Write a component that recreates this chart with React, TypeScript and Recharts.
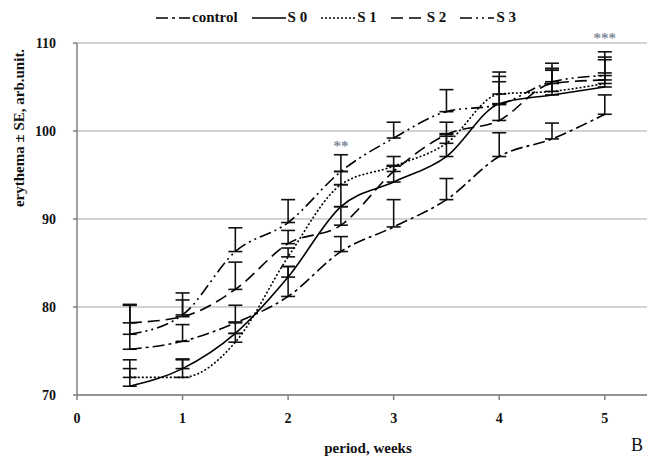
import React from 'react';
import { LineChart, Line, XAxis, YAxis, CartesianGrid, ErrorBar, Legend, ReferenceDot } from 'recharts';

const weeks = [0.5, 1, 1.5, 2, 2.5, 3, 3.5, 4, 4.5, 5];
const xTicks = [0, 1, 2, 3, 4, 5];
const yTicks = [70, 80, 90, 100, 110];

const control = [75.2, 76.1, 78.2, 81.2, 86.3, 89.1, 92.2, 97.1, 99.1, 101.9];
const controlSE = [5.0, 1.9, 2.0, 3.4, 1.7, 3.1, 2.4, 2.7, 1.8, 2.2];
const s0 = [71.0, 73.0, 77.0, 83.4, 91.4, 94.2, 97.1, 103.1, 104.1, 105.0];
const s0SE = [3.0, 1.1, 1.3, 1.2, 2.5, 1.8, 2.3, 2.5, 3.6, 1.6];
const s1 = [72.0, 72.0, 76.0, 85.7, 93.9, 96.0, 98.6, 104.2, 104.5, 105.4];
const s1SE = [1.0, 2.0, 1.0, 1.0, 1.5, 1.1, 1.1, 2.0, 2.6, 2.7];
const s2 = [78.2, 78.9, 82.0, 87.2, 89.3, 95.4, 99.6, 101.2, 105.4, 105.8];
const s2SE = [2.0, 1.9, 3.1, 1.5, 2.1, 0.7, 1.4, 1.9, 1.5, 2.6];
const s3 = [76.9, 79.1, 86.3, 89.6, 95.4, 99.2, 102.2, 103.0, 105.6, 106.3];
const s3SE = [3.4, 2.5, 2.7, 2.6, 1.9, 1.8, 2.5, 3.7, 1.5, 2.7];

const annotations = [
  { week: 2.5, value: 98.3, text: '**' },
  { week: 5, value: 110.6, text: '***' },
];

const data = weeks.map((w, i) => ({
  week: w,
  control: control[i],
  controlErr: [0, controlSE[i]],
  s0: s0[i],
  s0Err: [0, s0SE[i]],
  s1: s1[i],
  s1Err: [0, s1SE[i]],
  s2: s2[i],
  s2Err: [0, s2SE[i]],
  s3: s3[i],
  s3Err: [0, s3SE[i]],
}));

const series = [
  { key: 'control', name: 'control', dash: '12 4 3 4' },
  { key: 's0', name: 'S 0', dash: undefined },
  { key: 's1', name: 'S 1', dash: '2 2' },
  { key: 's2', name: 'S 2', dash: '12 6' },
  { key: 's3', name: 'S 3', dash: '12 4 2 4 2 4' },
];

const FONT = '"Liberation Serif", "Times New Roman", serif';

const LegendContent = () => (
  <div style={{ display: 'flex', justifyContent: 'center', alignItems: 'center', paddingLeft: 36, fontFamily: FONT, fontWeight: 'bold', fontSize: 15, color: '#111' }}>
    {series.map((s) => (
      <div key={s.key} style={{ display: 'flex', alignItems: 'center', marginRight: 14 }}>
        <svg width={34} height={10} style={{ marginRight: 2 }}>
          <line x1={0} y1={5} x2={34} y2={5} stroke="#000" strokeWidth={1.6} strokeDasharray={s.dash} />
        </svg>
        <span>{s.name}</span>
      </div>
    ))}
  </div>
);

const YLabel = () => (
  <text x={19} y={128} transform="rotate(-90 19 128)" textAnchor="middle" dominantBaseline="central" fontFamily={FONT} fontWeight="bold" fontSize={15} fill="#111">
    erythema ± SE, arb.unit.
  </text>
);

const XLabel = () => (
  <g>
    <text x={368} y={448} textAnchor="middle" dominantBaseline="central" fontFamily={FONT} fontWeight="bold" fontSize={15} fill="#111">
      period, weeks
    </text>
    <text x={637} y={445} textAnchor="middle" dominantBaseline="central" fontFamily={FONT} fontSize={18} fill="#111">
      B
    </text>
  </g>
);

export default function App() {
  return (
    <div style={{ position: 'absolute', left: 0, top: 0, width: 650, height: 456, background: '#fff' }}>
      <LineChart width={650} height={456} data={data} margin={{ top: 43, right: 3, bottom: 0, left: 0 }}>
        <CartesianGrid vertical={false} stroke="#c4c4c4" strokeWidth={1.5} />
        <XAxis
          type="number"
          dataKey="week"
          domain={[0, 5.4]}
          ticks={xTicks}
          height={61}
          tickSize={5}
          tickMargin={13}
          stroke="#7f7f7f"
          strokeWidth={1.5}
          tick={{ fontFamily: FONT, fontWeight: 'bold', fontSize: 14, fill: '#111' }}
          label={<XLabel />}
        />
        <YAxis
          type="number"
          domain={[70, 110]}
          ticks={yTicks}
          width={77}
          tickSize={4}
          tickMargin={17}
          stroke="#7f7f7f"
          strokeWidth={1.5}
          tick={{ fontFamily: FONT, fontWeight: 'bold', fontSize: 14, fill: '#111' }}
          label={<YLabel />}
        />
        <Legend verticalAlign="middle" content={<LegendContent />} wrapperStyle={{ top: 9, left: 0, width: 650 }} />
        {series.map((s) => (
          <Line
            key={s.key}
            dataKey={s.key}
            name={s.name}
            type="monotone"
            stroke="#000"
            strokeWidth={1.6}
            strokeDasharray={s.dash}
            dot={false}
            activeDot={false}
            isAnimationActive={false}
          >
            <ErrorBar dataKey={`${s.key}Err`} width={7} stroke="#111" strokeWidth={1.6} direction="y" />
          </Line>
        ))}
        {annotations.map((a) => (
          <ReferenceDot
            key={a.text}
            x={a.week}
            y={a.value}
            r={0}
            ifOverflow="visible"
            label={{ value: a.text, position: 'center', fill: '#7f8a99', fontSize: 15, fontWeight: 'bold', fontFamily: FONT }}
          />
        ))}
      </LineChart>
    </div>
  );
}
